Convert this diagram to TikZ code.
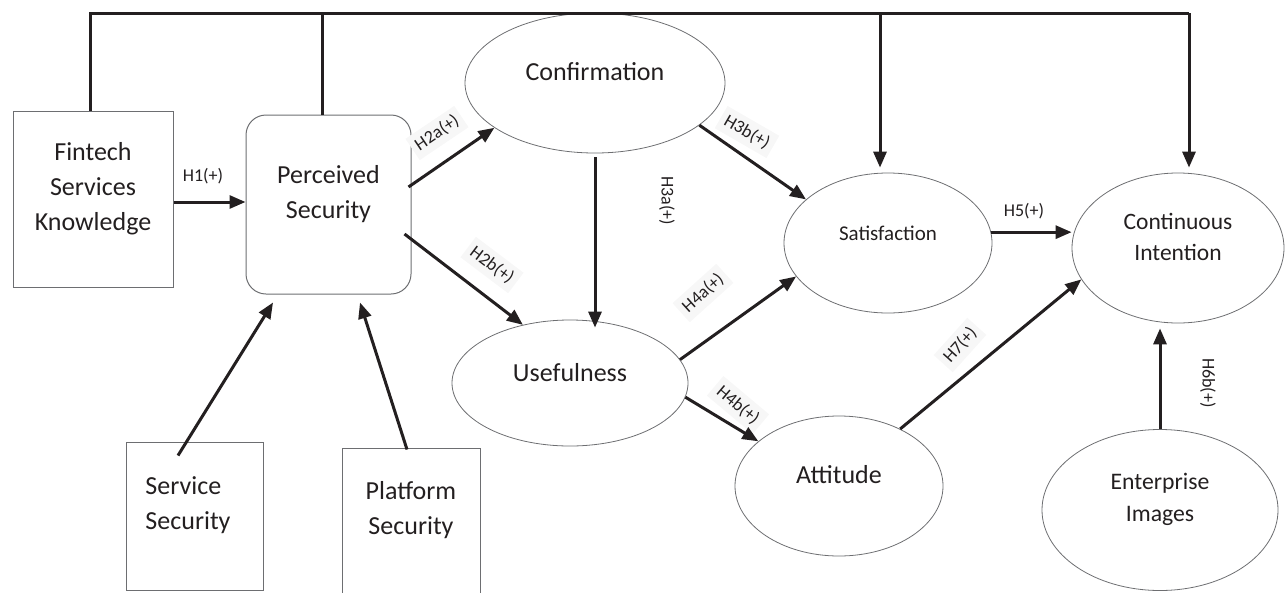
\documentclass[tikz,border=0pt]{standalone}
\usepackage{fontspec}
\setmainfont{Carlito}
\usetikzlibrary{arrows.meta,shapes.geometric}
\definecolor{ink}{HTML}{231F20}
\definecolor{edge}{HTML}{6D6E71}
\begin{document}
\begin{tikzpicture}[x=1pt,y=-1pt,
  every node/.style={text=ink},
  boxn/.style={draw=edge, line width=1pt, rectangle, inner sep=0pt},
  ell/.style={draw=edge, line width=0.8pt, ellipse, inner sep=0pt},
  big/.style={font=\fontsize{26}{35}\selectfont},
  conn/.style={line width=3pt, draw=ink},
  arr/.style={conn, -{Triangle[length=16pt,width=13pt]}},
  hyp/.style={font=\fontsize{18}{20}\selectfont, fill=black!3, inner sep=5pt},
  ]
\useasboundingbox (0,0) rectangle (1285,592);
\clip (0,0) rectangle (1285,592);

% boxes
\node[boxn, minimum width=160pt, minimum height=176pt,
  label={[big,align=center,yshift=10pt]center:Fintech\\Services\\Knowledge}] (fk) at (93,199) {};
\node[boxn, rounded corners=20pt, minimum width=165pt, minimum height=179pt,
  label={[big,align=center,yshift=10pt]center:Perceived\\Security}] (ps) at (328.5,204.5) {};
\node[boxn, minimum width=137pt, minimum height=148pt,
  label={[big,align=left,xshift=-6.5pt,yshift=11pt]center:Service\\Security}] (ss) at (194.5,516) {};
\node[boxn, minimum width=138pt, minimum height=160pt,
  label={[big,align=center,yshift=18pt]center:Platform\\Security}] (pl) at (411,528) {};

% ellipses
\node[ell, minimum width=260pt, minimum height=140pt,
  label={[big,yshift=11pt]center:Confirmation}] (conf) at (595,83) {};
\node[ell, minimum width=236pt, minimum height=126pt,
  label={[big,yshift=10pt]center:Usefulness}] (use) at (570,383) {};
\node[ell, minimum width=208pt, minimum height=140pt,
  label={[font=\fontsize{21}{26}\selectfont,yshift=10pt]center:Satisfaction}] (sat) at (888,243) {};
\node[ell, minimum width=212pt, minimum height=150pt,
  label={[font=\fontsize{23.5}{31}\selectfont,align=center,yshift=11pt]center:Continuous\\Intention}] (ci) at (1178,248) {};
\node[ell, minimum width=208pt, minimum height=140pt,
  label={[big,yshift=11pt]center:Attitude}] (att) at (839,486) {};
\node[ell, minimum width=236pt, minimum height=161pt,
  label={[font=\fontsize{23.7}{32}\selectfont,align=center,yshift=11pt]center:Enterprise\\Images}] (ent) at (1160,510) {};

% hypothesis labels
\node[hyp, fill=none] (l1) at (203,176) {H1(+)};
\node[hyp, rotate=34] (l2a) at (437,133) {H2a(+)};
\node[hyp, rotate=-37] (l2b) at (492,265) {H2b(+)};
\node[hyp, fill=none, rotate=-90] (l3a) at (667,201) {H3a(+)};
\node[hyp, rotate=-30] (l3b) at (747,132) {H3b(+)};
\node[hyp, rotate=42] (l4a) at (703,293) {H4a(+)};
\node[hyp, rotate=-40] (l4b) at (738,405) {H4b(+)};
\node[hyp, rotate=48] (l7) at (960,345) {H7(+)};
\node[hyp, fill=none] (l5) at (1024,211) {H5(+)};
\node[hyp, fill=none, rotate=-90] (l6b) at (1208,383) {H6b(+)};

% top connector
\coordinate (tC) at (1189,13);
\coordinate (tS) at (880,13);
\draw[conn] ([xshift=-3pt]fk.north) |- (tC);
\draw[conn] ([xshift=-6.5pt]ps.north) -- ([xshift=-6.5pt]ps.north |- tC);
\draw[arr, shorten >=5pt] (tS) -- (tS |- sat.north);
\draw[arr, shorten >=5pt] (tC) -- (tC |- ci.north);

% arrows
\coordinate (h1s) at ([yshift=-3pt]fk.east);
\draw[arr] (h1s) -- (h1s -| ps.west);
\draw[arr] ([xshift=-3pt,yshift=17.5pt]ps.east) -- (conf.204);
\draw[arr] ([xshift=-7pt,yshift=-29.5pt]ps.east) -- (use.129);
\draw[arr, shorten <=4pt, shorten >=-8pt] (conf.south) -- (conf.south |- use.north);
\draw[arr] (conf.-22) -- (sat.152);
\draw[arr] (use.12) -- (sat.200);
\draw[arr] (use.-7) -- (att.151);
\draw[arr] (att.43) -- (ci.198);
\draw[arr] (sat.6) -- (sat.6 -| ci.west);
\draw[arr, shorten >=5pt] (ent.north) -- (ent.north |- ci.south);
\draw[arr] ([xshift=-16.5pt,yshift=-14pt]ss.north) -- ([xshift=-55.5pt,yshift=-8pt]ps.south);
\draw[arr] ([xshift=-4pt,yshift=-2pt]pl.north) -- ([xshift=31.5pt,yshift=-8pt]ps.south);
\end{tikzpicture}
\end{document}
